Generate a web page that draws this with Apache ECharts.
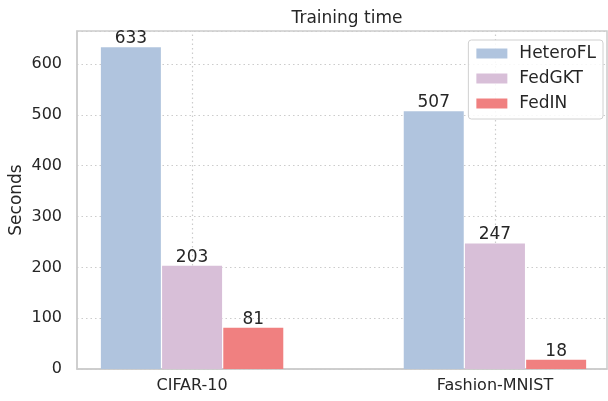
<!doctype html>
<html>
<head>
<meta charset="utf-8">
<script src="https://cdn.jsdelivr.net/npm/echarts@6/dist/echarts.min.js"></script>
<style>
    html, body {margin: 0; padding: 0; background: #fff;}
    #chart {width: 608px; height: 401px;}
</style>
</head>
<body>
<div id="chart"></div>
<script>
    // data
    var datasets = ['CIFAR-10', 'Fashion-MNIST'];
    var methods = ['HeteroFL', 'FedGKT', 'FedIN'];
    var heteroFL = [633, 507];
    var fedGKT = [203, 247];
    var fedIN = [81, 18];
    var yTicks = [0, 100, 200, 300, 400, 500, 600];

    var colors = ['#b0c4de', '#d8bfd8', '#f08080'];
    var values = [heteroFL, fedGKT, fedIN];
    var txt = '#262626';
    var font = 'DejaVu Sans';
    var gridLine = {type: [1.5, 3], color: '#cccccc', width: 1.2};

    var myChart = echarts.init(document.getElementById('chart'));

    var series = methods.map(function (name, i) {
        return {
            name: name,
            type: 'bar',
            barWidth: 60,
            barGap: '2%',
            z: 3,
            itemStyle: {color: colors[i]},
            label: {
                show: true,
                position: 'top',
                distance: 0,
                color: txt,
                fontFamily: font,
                fontSize: 17
            },
            data: values[i].map(function (v, k) { return [k, v]; })
        };
    });

    // vertical grid lines at the dataset positions, behind the bars
    series.push({
        type: 'line',
        data: [],
        silent: true,
        markLine: {
            silent: true,
            symbol: 'none',
            z: 1,
            label: {show: false},
            lineStyle: gridLine,
            data: datasets.map(function (d, k) { return {xAxis: k}; })
        }
    });

    var option = {
        animation: false,
        title: {
            text: 'Training time',
            left: 342,
            top: 5,
            textAlign: 'center',
            textStyle: {color: txt, fontFamily: font, fontSize: 17, fontWeight: 'normal'}
        },
        legend: {
            orient: 'vertical',
            right: 5,
            top: 40,
            padding: [5, 7, 7, 8],
            itemWidth: 31,
            itemHeight: 10,
            itemGap: 8,
            icon: 'rect',
            data: methods,
            backgroundColor: 'rgba(255,255,255,0.85)',
            borderColor: '#d0d0d0',
            borderWidth: 1,
            borderRadius: 3,
            textStyle: {color: txt, fontFamily: font, fontSize: 17, lineHeight: 16, padding: [0, 0, 0, 7]}
        },
        grid: {
            left: 77,
            right: 1,
            top: 31,
            bottom: 32,
            containLabel: false,
            outerBoundsMode: 'none',
            show: true,
            borderColor: '#cccccc',
            borderWidth: 1.5
        },
        xAxis: {
            type: 'value',
            min: -0.38,
            max: 1.37,
            axisLine: {show: true, onZero: false, lineStyle: {color: '#cccccc', width: 1.5}},
            axisTick: {show: false, customValues: [0, 1]},
            axisLabel: {
                customValues: [0, 1],
                color: txt,
                fontFamily: font,
                fontSize: 16,
                margin: 9,
                formatter: function (v) { return datasets[Math.round(v)]; }
            },
            splitLine: {show: false}
        },
        yAxis: {
            type: 'value',
            min: 0,
            max: 665,
            interval: 100,
            name: 'Seconds',
            nameLocation: 'middle',
            nameGap: 52,
            nameMoveOverlap: false,
            nameTextStyle: {color: txt, fontFamily: font, fontSize: 17},
            axisLine: {show: true, onZero: false, lineStyle: {color: '#cccccc', width: 1.5}},
            axisTick: {show: false},
            axisLabel: {
                color: txt,
                fontFamily: font,
                fontSize: 16,
                margin: 15,
                showMaxLabel: false,
                formatter: function (v) { return yTicks.indexOf(v) >= 0 ? String(v) : ''; }
            },
            splitLine: {show: true, lineStyle: gridLine}
        },
        series: series
    };

    myChart.setOption(option);
</script>
</body>
</html>
